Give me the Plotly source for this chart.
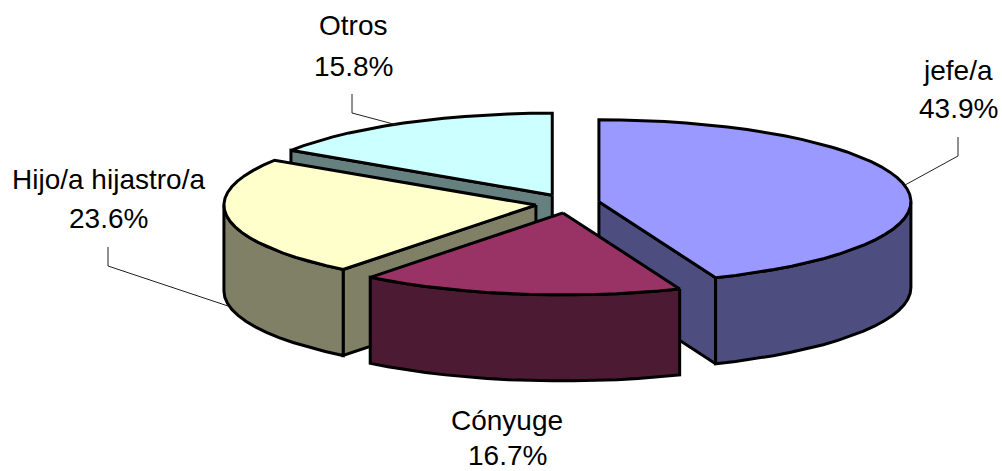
import math
import plotly.graph_objects as go

categories = ["jefe/a", "Cónyuge", "Hijo/a hijastro/a", "Otros"]
values = [43.9, 16.7, 23.6, 15.8]
top_colors = ["#9999FF", "#993366", "#FFFFCC", "#CCFFFF"]
side_colors = ["#4D4D80", "#4D1A33", "#808066", "#668080"]
label_pos = [(958, 70, 108), (507, 420, 455), (108, 179, 218), (353, 25, 66)]
leaders_x = [[958, 958, 905], [], [108, 108, 228], [352, 352, 397]]
leaders_y = [[137, 156, 185], [], [247, 266, 306], [94, 113, 125]]

CX, CY = 567.5, 203.5      # pie centre (pixels of the data space)
EX, EY = 32.0, 9.5         # explosion offset
A, B = 312.0, 82.0         # ellipse radii
DEPTH = 86.0
LW = 3

total = sum(values)
starts, a0 = [], 0.0
for v in values:
    starts.append(a0)
    a0 += v / total * 360.0


def pt(apex, deg, dy=0.0):
    r = math.radians(deg)
    return apex[0] + A * math.sin(r), apex[1] - B * math.cos(r) + dy


def arc(apex, d0, d1, dy=0.0):
    n = max(2, int(abs(d1 - d0) / 4))
    return [pt(apex, d0 + (d1 - d0) * i / n, dy) for i in range(n + 1)]


fig = go.Figure()


def poly(points, color):
    xs = [p[0] for p in points] + [points[0][0]]
    ys = [p[1] for p in points] + [points[0][1]]
    fig.add_trace(go.Scatter(x=xs, y=ys, mode="lines", fill="toself", fillcolor=color,
                             line=dict(color="black", width=LW, shape="linear"),
                             hoverinfo="skip", showlegend=False))


def slice_geom(i):
    d0 = starts[i]
    d1 = d0 + values[i] / total * 360.0
    mid = math.radians((d0 + d1) / 2)
    apex = (CX + EX * math.sin(mid), CY - EY * math.cos(mid))
    return apex, d0, d1


def walls(i):
    apex, d0, d1 = slice_geom(i)
    # radial cut faces that look toward the viewer
    for d in (d0, d1):
        s = math.sin(math.radians(d))
        faces_front = (d == d1 and s > 1e-9) or (d == d0 and s < -1e-9)
        if faces_front:
            e = pt(apex, d)
            poly([apex, e, (e[0], e[1] + DEPTH), (apex[0], apex[1] + DEPTH)], side_colors[i])
    # outer rim, front half only
    lo, hi = max(d0, 90.0), min(d1, 270.0)
    if hi > lo:
        poly(arc(apex, lo, hi) + arc(apex, hi, lo, DEPTH), side_colors[i])


def top(i):
    apex, d0, d1 = slice_geom(i)
    poly([apex] + arc(apex, d0, d1), top_colors[i])


for i in (3, 2, 0, 1):      # back to front
    walls(i)
    top(i)

for lx, ly in zip(leaders_x, leaders_y):
    if lx:
        fig.add_trace(go.Scatter(x=lx, y=ly, mode="lines", line=dict(color="#222222", width=1),
                                 hoverinfo="skip", showlegend=False))

for name, v, (x, y1, y2) in zip(categories, values, label_pos):
    for txt, y in ((name, y1), (f"{v:.1f}%", y2)):
        fig.add_annotation(x=x, y=y, text=txt, showarrow=False, xanchor="center", yanchor="middle",
                           borderpad=0,
                           font=dict(family="Liberation Sans", size=28, color="black"))

fig.update_xaxes(range=[0, 1002], visible=False, fixedrange=True)
fig.update_yaxes(range=[471, 0], visible=False, fixedrange=True)
fig.update_layout(width=1002, height=471, margin=dict(l=0, r=0, t=0, b=0),
                  paper_bgcolor="white", plot_bgcolor="white", showlegend=False)
fig.write_html("out.html", config={"displayModeBar": False},
               post_script="document.body.style.margin='0';document.body.style.overflow='hidden';")
